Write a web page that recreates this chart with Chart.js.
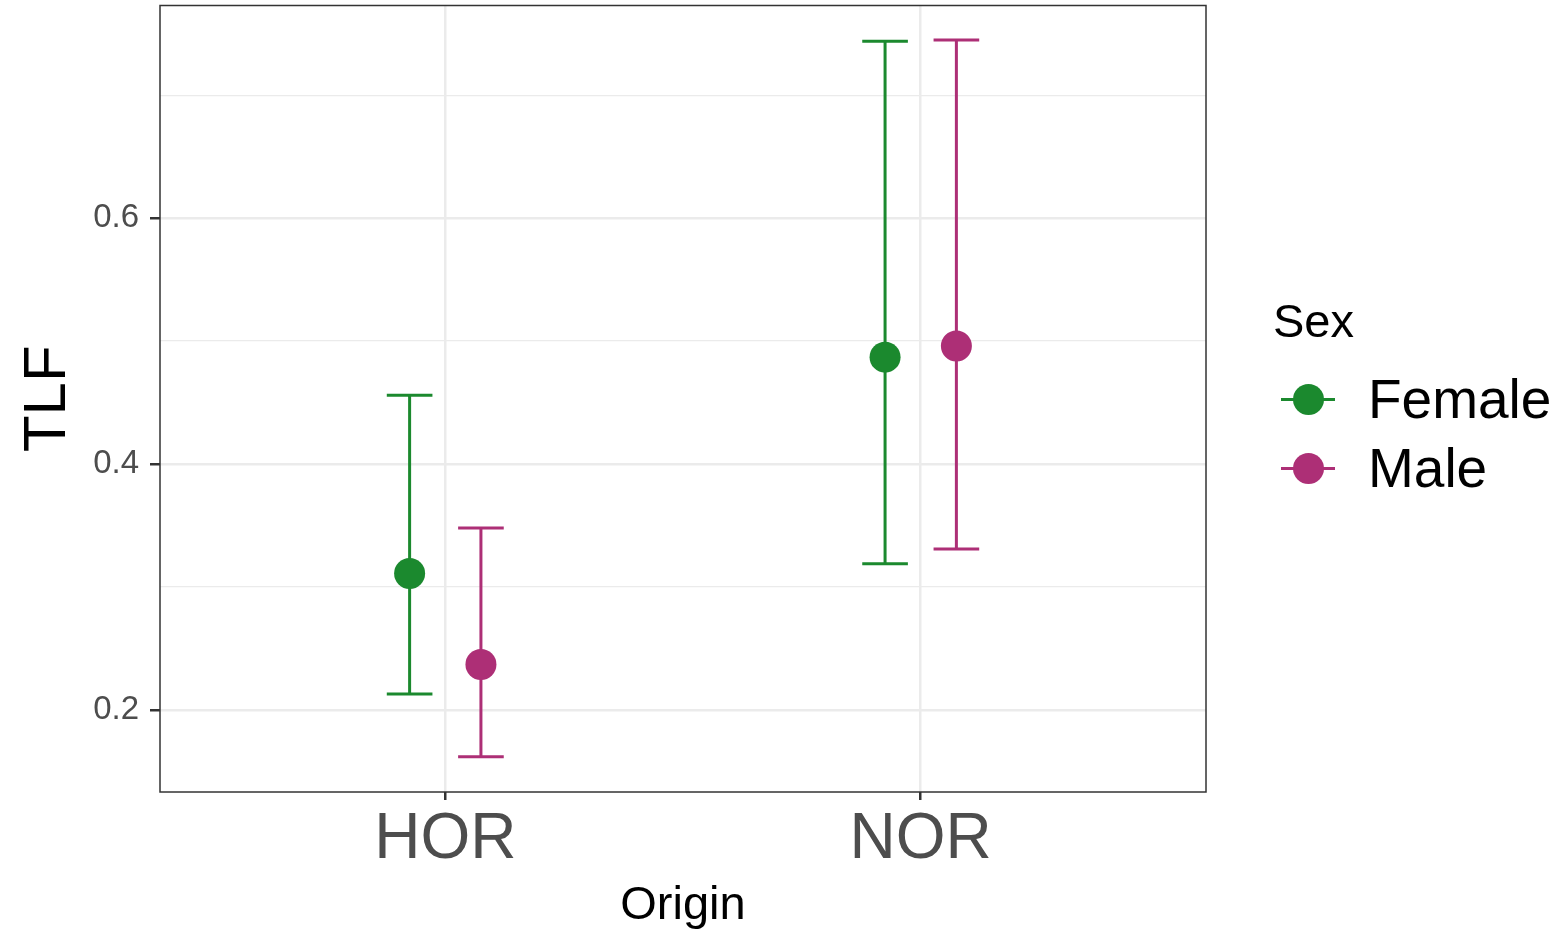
<!DOCTYPE html>
<html>
<head>
<meta charset="utf-8">
<script src="https://cdn.jsdelivr.net/npm/chart.js@4"></script>
<style>
  body { margin: 0; background: #fff; font-family: 'Liberation Sans', Arial, sans-serif; overflow: hidden; }
  #wrap { position: relative; width: 1562px; height: 931px; overflow: hidden; }
  #canvas { position: absolute; left: 0; top: -10px; }
  #legend { position: absolute; left: 1273px; top: 293px; color: #000; }
  #legend .title { font-size: 47px; line-height: 55px; margin-bottom: 17px; }
  #legend .item { position: relative; height: 69px; font-size: 55px; line-height: 69px; padding-left: 95px; }
  #legend .key { position: absolute; left: 8px; top: 33px; width: 54px; height: 3px; }
  #legend .dot { position: absolute; left: 20px; top: 19px; width: 31px; height: 31px; border-radius: 50%; }
</style>
</head>
<body>
<div id="wrap">
  <canvas id="canvas" width="1562" height="941"></canvas>
  <div id="legend"></div>
</div>
<script>
var origins = ['HOR', 'NOR'];
var sexes = ['Female', 'Male'];
var colors = ['#1b892e', '#ad2f76'];

var femaleTLF = [0.311, 0.487];
var femaleLo = [0.213, 0.319];
var femaleHi = [0.456, 0.744];

var maleTLF = [0.237, 0.496];
var maleLo = [0.162, 0.331];
var maleHi = [0.348, 0.745];

var yTicks = [0.2, 0.3, 0.4, 0.5, 0.6, 0.7];
var yMajor = [0.2, 0.4, 0.6];

var dodge = [-0.075, 0.075];
var capHalf = 0.048;

function points(vals, lo, hi, k) {
    return vals.map(function (v, i) {
        return { x: i + 1 + dodge[k], y: v, lo: lo[i], hi: hi[i] };
    });
}

function isMajor(v) {
    return yMajor.some(function (m) { return Math.abs(m - v) < 1e-6; });
}

var errorBars = {
    id: 'errorBars',
    beforeDatasetsDraw: function (chart) {
        var ctx = chart.ctx;
        var xs = chart.scales.x, ys = chart.scales.y;
        ctx.save();
        chart.data.datasets.forEach(function (ds) {
            ctx.strokeStyle = ds.borderColor;
            ctx.lineWidth = 3;
            ds.data.forEach(function (p) {
                var x = xs.getPixelForValue(p.x);
                var xl = xs.getPixelForValue(p.x - capHalf);
                var xr = xs.getPixelForValue(p.x + capHalf);
                var yl = ys.getPixelForValue(p.lo);
                var yh = ys.getPixelForValue(p.hi);
                ctx.beginPath();
                ctx.moveTo(x, yl); ctx.lineTo(x, yh);
                ctx.moveTo(xl, yl); ctx.lineTo(xr, yl);
                ctx.moveTo(xl, yh); ctx.lineTo(xr, yh);
                ctx.stroke();
            });
        });
        ctx.restore();
    },
    afterDraw: function (chart) {
        var a = chart.chartArea, ctx = chart.ctx;
        ctx.save();
        ctx.strokeStyle = '#333333';
        ctx.lineWidth = 1.5;
        ctx.strokeRect(a.left, a.top, a.right - a.left, a.bottom - a.top);
        ctx.restore();
    }
};

var config = {
    type: 'scatter',
    data: {
        datasets: [{
            label: sexes[0],
            data: points(femaleTLF, femaleLo, femaleHi, 0),
            backgroundColor: colors[0],
            borderColor: colors[0],
            pointRadius: 15.5,
            pointBorderWidth: 0
        }, {
            label: sexes[1],
            data: points(maleTLF, maleLo, maleHi, 1),
            backgroundColor: colors[1],
            borderColor: colors[1],
            pointRadius: 15.5,
            pointBorderWidth: 0
        }]
    },
    options: {
        responsive: false,
        animation: false,
        layout: { padding: { top: 0, right: 356, left: 0, bottom: 0 } },
        plugins: {
            legend: { display: false },
            tooltip: { enabled: false }
        },
        scales: {
            x: {
                type: 'linear',
                min: 0.4,
                max: 2.6,
                afterBuildTicks: function (scale) {
                    scale.ticks = origins.map(function (o, i) { return { value: i + 1 }; });
                },
                afterFit: function (scale) {
                    scale.height = 139;
                    scale.paddingLeft = 0;
                    scale.paddingRight = 0;
                },
                ticks: {
                    callback: function (v) { return origins[v - 1]; },
                    color: '#4d4d4d',
                    font: { family: "'Liberation Sans', Arial", size: 64 },
                    padding: 2,
                    maxRotation: 0
                },
                grid: { color: '#ebebeb', lineWidth: 2.5, tickColor: '#333333', tickLength: 8 },
                border: { display: false },
                title: {
                    display: true,
                    text: 'Origin',
                    color: '#000',
                    font: { family: "'Liberation Sans', Arial", size: 47 },
                    padding: { top: 0, bottom: -3 }
                }
            },
            y: {
                min: 0.1333,
                max: 0.773,
                afterBuildTicks: function (scale) {
                    scale.ticks = yTicks.map(function (v) { return { value: v }; });
                },
                afterFit: function (scale) {
                    scale.width = 160;
                    scale.paddingTop = 0;
                    scale.paddingBottom = 0;
                },
                ticks: {
                    callback: function (v) { return isMajor(v) ? v.toFixed(1) : ''; },
                    color: '#4d4d4d',
                    font: { family: "'Liberation Sans', Arial", size: 33 },
                    padding: 11
                },
                grid: {
                    color: '#ebebeb',
                    lineWidth: function (c) {
                        return c.tick && isMajor(c.tick.value) ? 2.5 : 1.3;
                    },
                    tickColor: function (c) {
                        return c.tick && isMajor(c.tick.value) ? '#333333' : 'rgba(0,0,0,0)';
                    },
                    tickLength: 10
                },
                border: { display: false },
                title: {
                    display: true,
                    text: 'TLF',
                    color: '#000',
                    font: { family: "'Liberation Sans', Arial", size: 60 },
                    padding: { top: 12, bottom: 0 }
                }
            }
        }
    },
    plugins: [errorBars]
};

window.onload = function () {
    var ctx = document.getElementById('canvas').getContext('2d');
    window.myChart = new Chart(ctx, config);

    var legend = document.getElementById('legend');
    var html = '<div class="title">Sex</div>';
    sexes.forEach(function (s, i) {
        html += '<div class="item"><span class="key" style="background:' + colors[i] + '"></span>' +
            '<span class="dot" style="background:' + colors[i] + '"></span>' + s + '</div>';
    });
    legend.innerHTML = html;
};
</script>
</body>
</html>
